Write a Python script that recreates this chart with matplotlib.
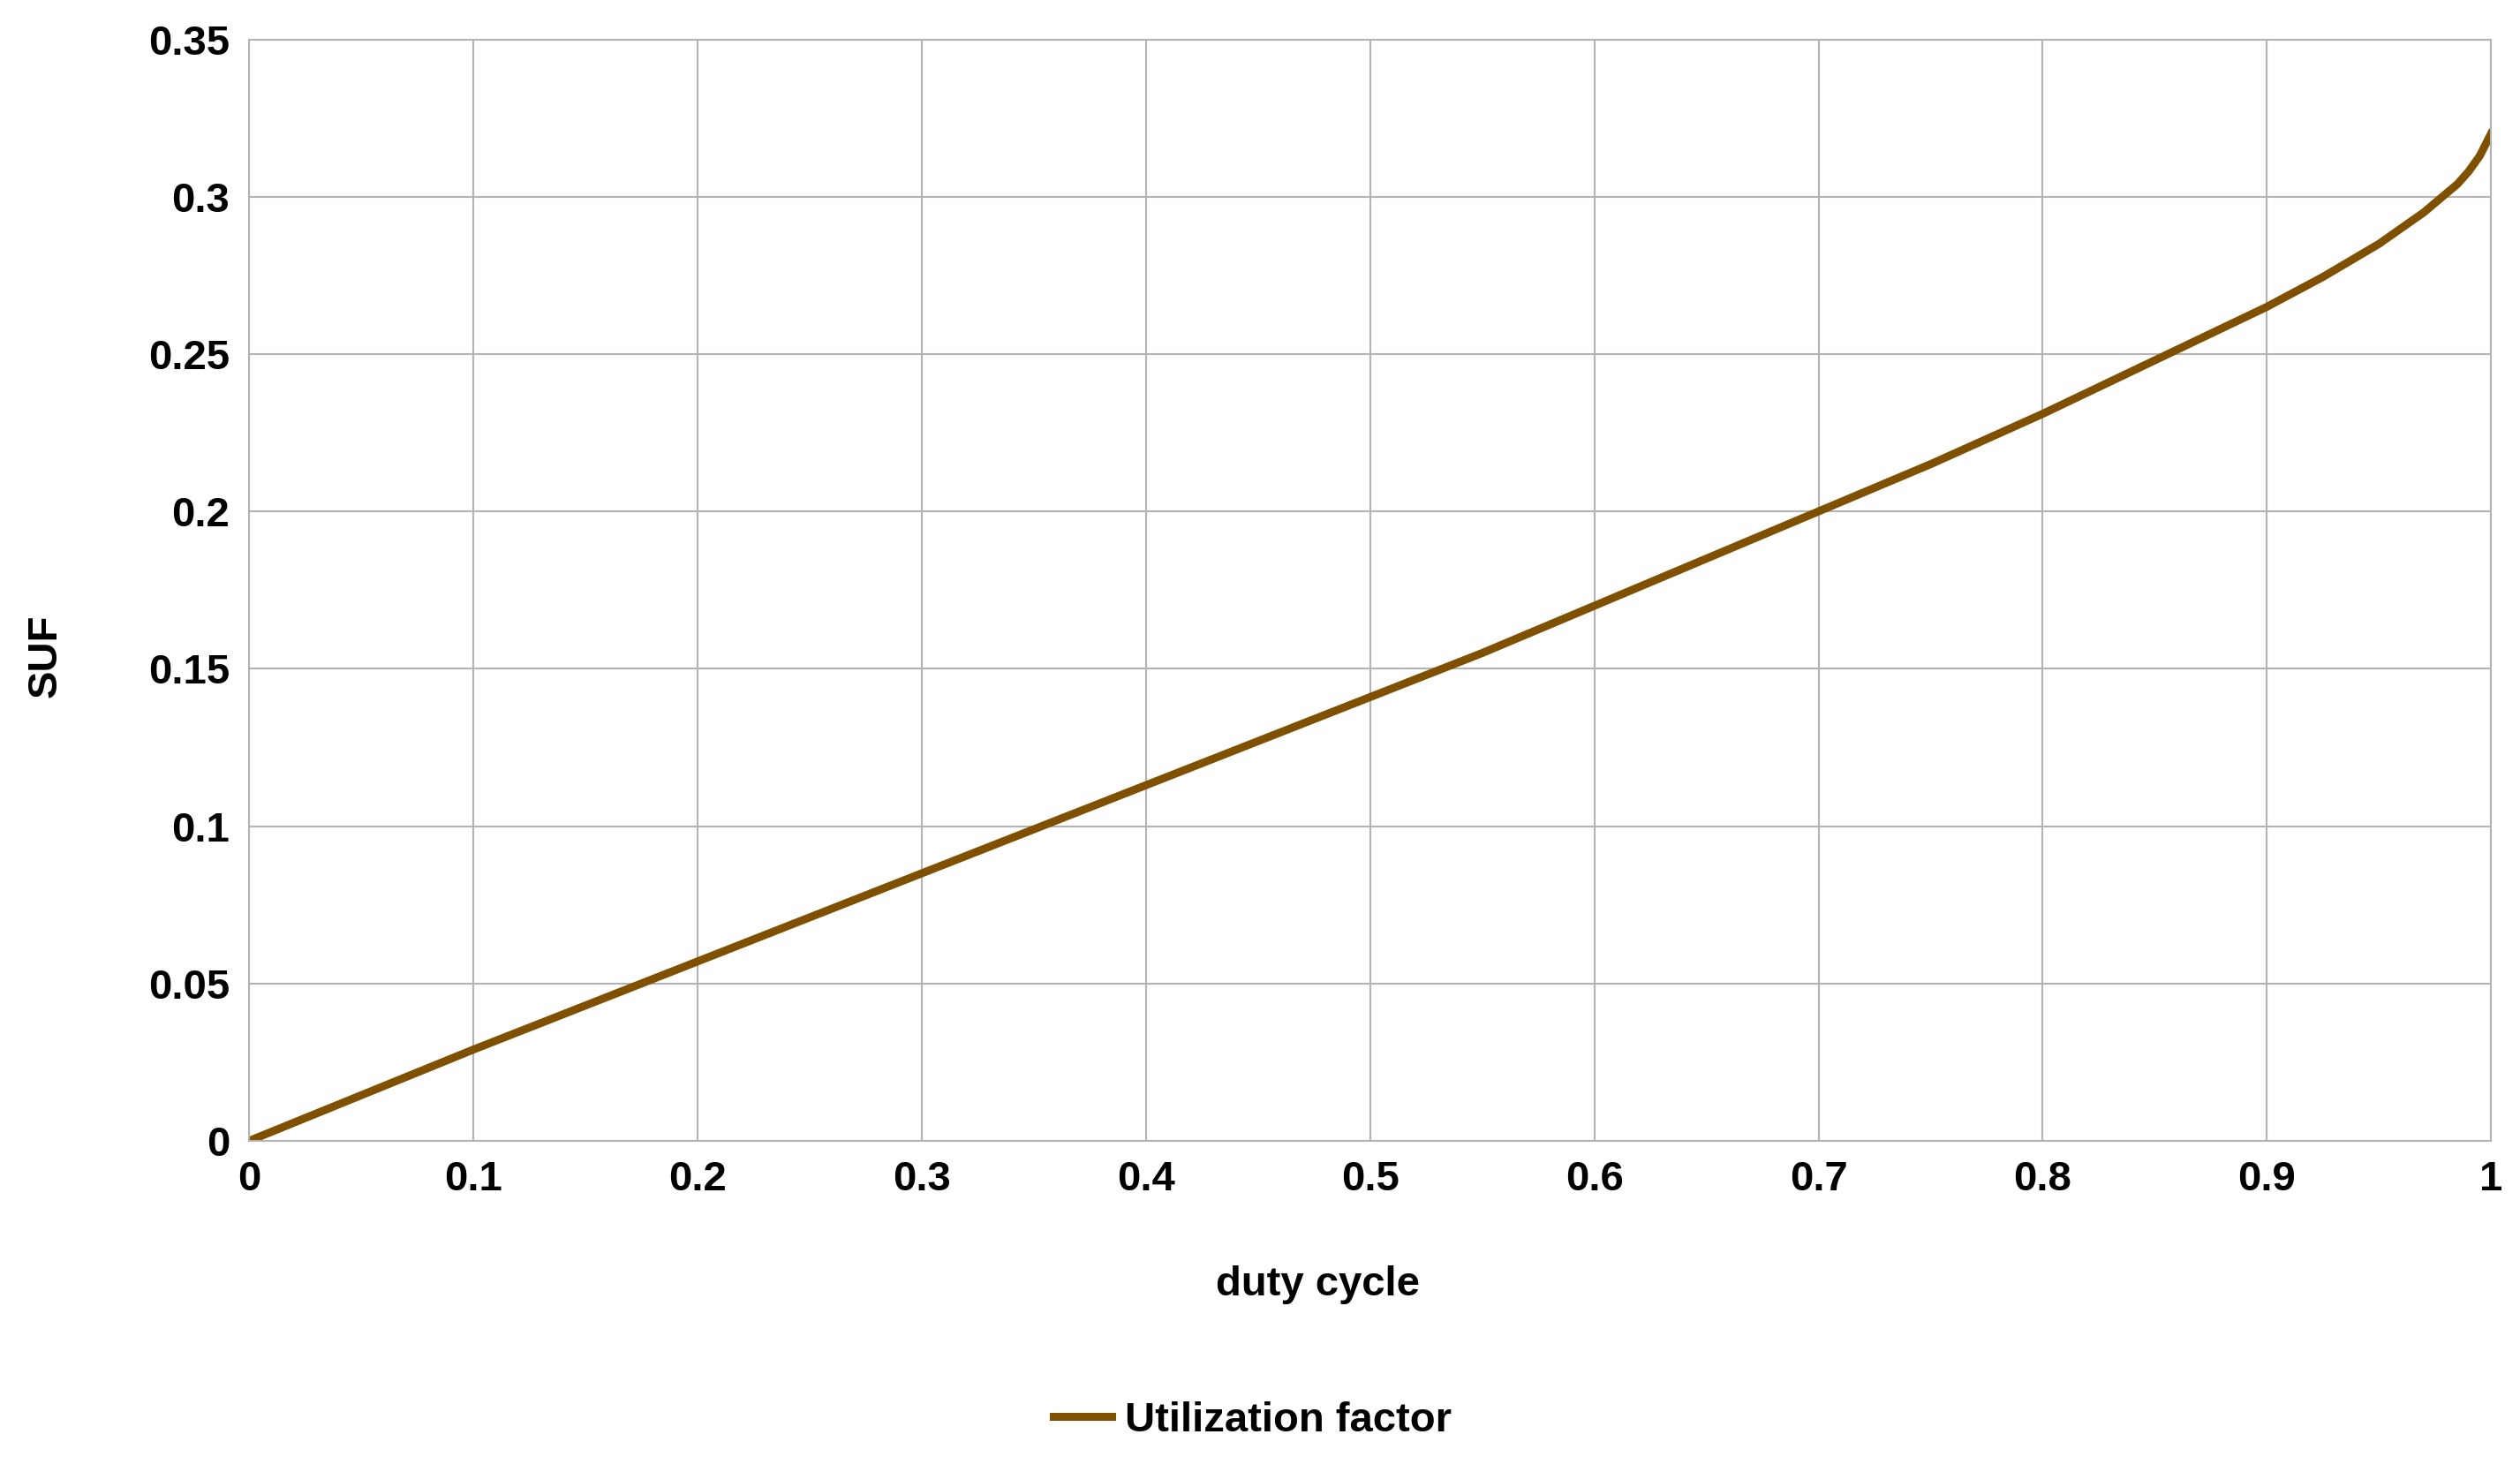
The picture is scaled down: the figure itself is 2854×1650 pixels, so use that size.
import matplotlib.pyplot as plt

duty_cycle = [0.0, 0.05, 0.1, 0.15, 0.2, 0.25, 0.3, 0.35, 0.4, 0.45, 0.5,
              0.55, 0.6, 0.65, 0.7, 0.75, 0.8, 0.85, 0.9, 0.925, 0.95, 0.96, 0.97, 0.98,
              0.985, 0.99, 0.995, 1.0]
suf = [0.0, 0.0145, 0.029, 0.043, 0.057, 0.071, 0.085, 0.099, 0.113, 0.127, 0.141,
       0.155, 0.170, 0.185, 0.200, 0.215, 0.231, 0.248, 0.265, 0.2745, 0.285, 0.290,
       0.295, 0.301, 0.304, 0.308, 0.313, 0.320]

x_ticks = [0, 0.1, 0.2, 0.3, 0.4, 0.5, 0.6, 0.7, 0.8, 0.9, 1]
x_labels = ['0', '0.1', '0.2', '0.3', '0.4', '0.5', '0.6', '0.7', '0.8', '0.9', '1']
y_ticks = [0, 0.05, 0.1, 0.15, 0.2, 0.25, 0.3, 0.35]
y_labels = ['0', '0.05', '0.1', '0.15', '0.2', '0.25', '0.3', '0.35']

plt.rcParams['font.family'] = ['Liberation Sans', 'DejaVu Sans']
fig = plt.figure(figsize=(28.54, 16.5), dpi=100)
ax = fig.add_axes([0.0989, 0.217, 0.8896, 0.756])

ax.plot(duty_cycle, suf, color='#7f5000', linewidth=6.5, label='Utilization factor')
ax.set_xlim(0, 1)
ax.set_ylim(0, 0.35)
ax.set_xticks(x_ticks)
ax.set_xticklabels(x_labels)
ax.set_yticks(y_ticks)
ax.set_yticklabels(y_labels)
ax.grid(True, color='#b3b3b3', linewidth=1.5)
ax.set_axisbelow(True)
for s in ax.spines.values():
    s.set_color('#b3b3b3')
    s.set_linewidth(1.5)
ax.tick_params(length=0, pad=16, labelsize=34)
for lbl in ax.get_xticklabels() + ax.get_yticklabels():
    lbl.set_fontweight('bold')

fig.text(0.523, 0.118, 'duty cycle', fontsize=34, fontweight='bold', ha='center', va='center')
fig.text(0.018, 0.55, 'SUF', fontsize=34, fontweight='bold', ha='center', va='center',
         rotation=90)

fig.legend(loc='center', bbox_to_anchor=(0.497, 0.025), frameon=False,
           prop={'size': 34, 'weight': 'bold'}, handlelength=1.4, handletextpad=0.3)

fig.savefig('out.png', dpi=100)
